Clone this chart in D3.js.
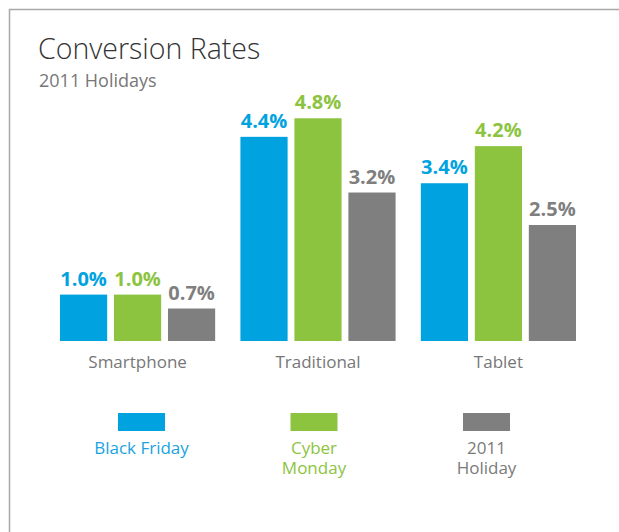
<!DOCTYPE html>
<html>
<head>
<meta charset="utf-8">
<script src="https://cdn.jsdelivr.net/npm/d3@7"></script>
<style>
  body { margin: 0; background: #fff; }
  svg { display: block; font-family: 'Open Sans', 'Noto Sans', sans-serif; }
</style>
</head>
<body>
<svg></svg>
<script>
'use strict';

const svgWidth = 619;
const svgHeight = 532;

// chart data
const categories = ['Smartphone', 'Traditional', 'Tablet'];
const seriesNames = ['Black Friday', 'Cyber Monday', '2011 Holiday'];
const blackFriday = [1.0, 4.4, 3.4];
const cyberMonday = [1.0, 4.8, 4.2];
const holiday2011 = [0.7, 3.2, 2.5];
const legendLines = [['Black Friday'], ['Cyber', 'Monday'], ['2011', 'Holiday']];

const colors = ['#00a3e0', '#8cc43f', '#7f7f80'];
const textColors = ['#1aa3e0', '#8cc43f', '#7a7a7a'];

const svg = d3.select('svg')
  .attr('width', svgWidth)
  .attr('height', svgHeight);

// frame: only top and left edges are visible
svg.append('path')
  .attr('d', `M 9.5,${svgHeight} V 9.5 H ${svgWidth}`)
  .attr('fill', 'none')
  .attr('stroke', '#a8a8a8')
  .attr('stroke-width', 1.5);

svg.append('text')
  .attr('x', 38)
  .attr('y', 59)
  .attr('font-size', 28.5)
  .attr('font-weight', 300)
  .attr('fill', '#333')
  .text('Conversion Rates');

svg.append('text')
  .attr('x', 39)
  .attr('y', 87)
  .attr('font-size', 18)
  .attr('fill', '#777')
  .text('2011 Holidays');

const rows = categories.map((c, i) => ({
  category: c,
  values: [blackFriday[i], cyberMonday[i], holiday2011[i]]
}));

const baseY = 341;

const x0 = d3.scaleBand()
  .domain(categories)
  .range([60, 576])
  .paddingInner(0.14);

const x1 = d3.scaleBand()
  .domain(seriesNames)
  .range([0, x0.bandwidth()])
  .paddingInner(0.126);

const y = d3.scaleLinear()
  .domain([0, 5])
  .range([baseY, baseY - 232]);

const groups = svg.append('g')
  .selectAll('g')
  .data(rows)
  .join('g')
  .attr('transform', d => `translate(${x0(d.category)},0)`);

const bars = groups.selectAll('g')
  .data(d => d.values.map((v, i) => ({ name: seriesNames[i], value: v, idx: i })))
  .join('g');

bars.append('rect')
  .attr('x', d => x1(d.name))
  .attr('y', d => y(d.value))
  .attr('width', x1.bandwidth())
  .attr('height', d => baseY - y(d.value))
  .attr('fill', d => colors[d.idx]);

bars.append('text')
  .attr('x', d => x1(d.name) + x1.bandwidth() / 2)
  .attr('y', d => y(d.value) - 9)
  .attr('text-anchor', 'middle')
  .attr('font-size', 20)
  .attr('font-weight', 'bold')
  .attr('fill', d => colors[d.idx])
  .text(d => d.value.toFixed(1) + '%');

// category labels
const xAxis = svg.append('g')
  .attr('transform', `translate(0,${baseY})`)
  .call(d3.axisBottom(x0).tickSize(0).tickPadding(10));

xAxis.select('.domain').remove();
xAxis.selectAll('text')
  .attr('font-family', "'Open Sans', 'Noto Sans', sans-serif")
  .attr('font-size', 17)
  .attr('fill', '#777')
  .attr('dy', '1em');

// legend
const lx = d3.scalePoint()
  .domain(seriesNames)
  .range([141.5, 486.5]);

const legend = svg.append('g')
  .selectAll('g')
  .data(seriesNames)
  .join('g')
  .attr('transform', d => `translate(${lx(d)},0)`);

legend.append('rect')
  .attr('x', -23.5)
  .attr('y', 413)
  .attr('width', 47)
  .attr('height', 18)
  .attr('fill', (d, i) => colors[i]);

legend.append('text')
  .attr('text-anchor', 'middle')
  .attr('font-size', 17)
  .attr('fill', (d, i) => textColors[i])
  .selectAll('tspan')
  .data((d, i) => legendLines[i])
  .join('tspan')
  .attr('x', 0)
  .attr('y', (d, j) => 454 + j * 20)
  .text(d => d);
</script>
</body>
</html>
